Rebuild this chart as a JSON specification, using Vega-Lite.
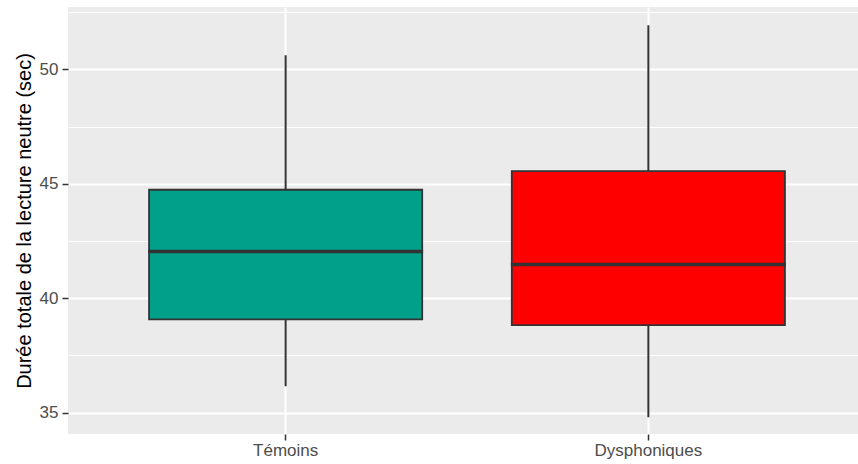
{
  "$schema": "https://vega.github.io/schema/vega-lite/v6.json",
  "width": 790,
  "height": 427,
  "autosize": {"type": "none"},
  "padding": {"left": 68, "top": 7, "right": 0, "bottom": 30},
  "config": {
    "view": {"fill": "#EBEBEB", "stroke": null},
    "font": "Liberation Sans"
  },
  "data": {
    "values": [
      {"groupe": "Témoins", "min": 36.15, "q1": 39.07, "median": 42.04, "q3": 44.74, "max": 50.62},
      {"groupe": "Dysphoniques", "min": 34.79, "q1": 38.82, "median": 41.47, "q3": 45.55, "max": 51.93}
    ]
  },
  "encoding": {
    "x": {
      "field": "groupe",
      "type": "nominal",
      "sort": ["Témoins", "Dysphoniques"],
      "scale": {"range": [0, 798], "paddingInner": 0, "paddingOuter": 0.1},
      "axis": {
        "title": null,
        "labelAngle": 0,
        "labelFontSize": 17,
        "labelColor": "#4D4D4D",
        "labelPadding": 2,
        "tickColor": "#333333",
        "tickSize": 6,
        "tickWidth": 1.5,
        "domain": false,
        "grid": true,
        "gridColor": "#FFFFFF",
        "gridWidth": 2,
        "bandPosition": 0.5
      }
    }
  },
  "layer": [
    {
      "mark": {"type": "rule", "color": "#333333", "strokeWidth": 2},
      "encoding": {
        "y": {
          "field": "min",
          "type": "quantitative",
          "scale": {"domain": [34.06, 52.73], "nice": false, "zero": false},
          "axis": {
            "values": [37.5, 42.5, 47.5, 52.5],
            "labels": false,
            "ticks": false,
            "domain": false,
            "title": null,
            "grid": true,
            "gridColor": "#FFFFFF",
            "gridWidth": 1,
            "orient": "left"
          }
        },
        "y2": {"field": "max"}
      }
    },
    {
      "mark": {"type": "bar", "stroke": "#333333", "strokeWidth": 1.8, "width": {"band": 0.753}},
      "encoding": {
        "y": {
          "field": "q1",
          "type": "quantitative",
          "scale": {"domain": [34.06, 52.73], "nice": false, "zero": false},
          "axis": {
            "values": [35, 40, 45, 50],
            "title": "Durée totale de la lecture neutre (sec)",
            "titleFontSize": 20,
            "titleFontWeight": "normal",
            "titleColor": "#000000",
            "titlePadding": 5,
            "labelFontSize": 17,
            "labelColor": "#4D4D4D",
            "labelPadding": 4,
            "tickColor": "#333333",
            "tickSize": 6,
            "tickWidth": 1.5,
            "domain": false,
            "grid": true,
            "gridColor": "#FFFFFF",
            "gridWidth": 2,
            "orient": "left"
          }
        },
        "y2": {"field": "q3"},
        "fill": {
          "field": "groupe",
          "type": "nominal",
          "scale": {"domain": ["Témoins", "Dysphoniques"], "range": ["#00A08A", "#FF0000"]},
          "legend": null
        }
      }
    },
    {
      "mark": {"type": "tick", "color": "#333333", "thickness": 3.5, "size": 275, "opacity": 1},
      "encoding": {
        "y": {"field": "median", "type": "quantitative", "axis": null}
      }
    }
  ],
  "resolve": {"axis": {"y": "independent"}}
}
